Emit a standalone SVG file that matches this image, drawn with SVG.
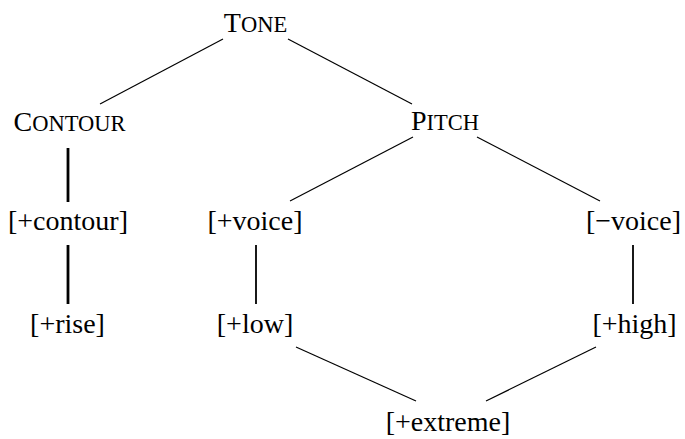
<svg xmlns="http://www.w3.org/2000/svg" width="685" height="439" viewBox="0 0 685 439">
<style>
text{font-family:"Liberation Serif","Times New Roman",serif;font-size:28px;fill:#000;text-anchor:middle}
.sc{font-size:22.5px}
.e{stroke:#000;fill:none;stroke-width:1.2}
.thick{stroke-width:2.8}
.mid{stroke-width:1.8}
</style>
<rect width="685" height="439" fill="#fff"/>
<g id="connectors">
<line class="e" x1="223" y1="39" x2="100" y2="104"/>
<line class="e" x1="288" y1="39" x2="412" y2="104"/>
<line class="e thick" x1="68" y1="148" x2="68" y2="202"/>
<line class="e thick" x1="68" y1="245" x2="68" y2="304"/>
<line class="e" x1="413" y1="137" x2="290" y2="201"/>
<line class="e" x1="477" y1="137" x2="600" y2="201"/>
<line class="e mid" x1="256" y1="245" x2="256" y2="304"/>
<line class="e mid" x1="633" y1="245" x2="633" y2="304"/>
<line class="e" x1="296" y1="347" x2="416" y2="401"/>
<line class="e" x1="596" y1="347" x2="486" y2="401"/>
</g>
<g id="tone"><text x="255.5" y="32">T<tspan class="sc">ONE</tspan></text></g>
<g id="contour"><text x="69.5" y="131">C<tspan class="sc">ONTOUR</tspan></text></g>
<g id="pitch"><text x="445" y="130">P<tspan class="sc">ITCH</tspan></text></g>
<g id="plus-contour"><text x="68" y="230">[+contour]</text></g>
<g id="plus-voice"><text x="255" y="230">[+voice]</text></g>
<g id="minus-voice"><text x="633.5" y="230">[−voice]</text></g>
<g id="plus-rise"><text x="67.5" y="333">[+rise]</text></g>
<g id="plus-low"><text x="255" y="333">[+low]</text></g>
<g id="plus-high"><text x="634.5" y="333">[+high]</text></g>
<g id="plus-extreme"><text x="448" y="431">[+extreme]</text></g>
</svg>
